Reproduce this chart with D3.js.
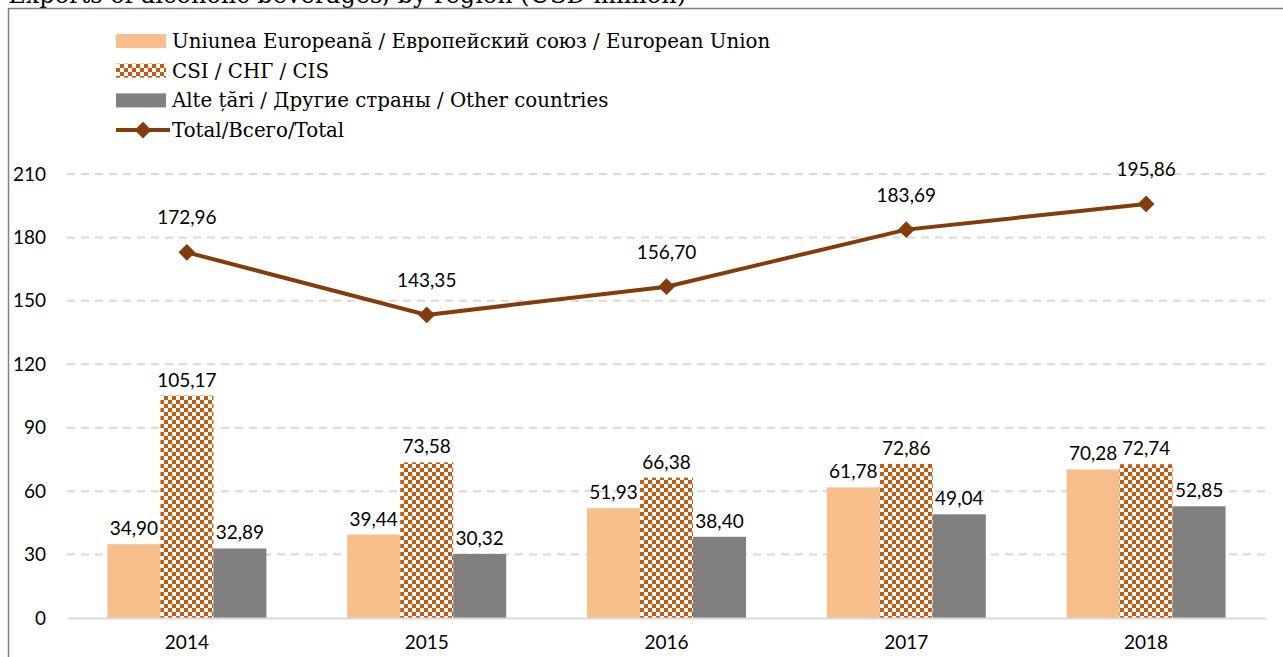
<!DOCTYPE html>
<html>
<head>
<meta charset="utf-8">
<script src="https://cdn.jsdelivr.net/npm/d3@7"></script>
<style>
  body { margin: 0; background: #fff; }
</style>
</head>
<body>
<script>
// donnees
const years = ["2014", "2015", "2016", "2017", "2018"];
const euValues = [34.90, 39.44, 51.93, 61.78, 70.28];
const cisValues = [105.17, 73.58, 66.38, 72.86, 72.74];
const otherValues = [32.89, 30.32, 38.40, 49.04, 52.85];
const totalValues = [172.96, 143.35, 156.70, 183.69, 195.86];
const yTicks = [0, 30, 60, 90, 120, 150, 180, 210];
const legendLabels = [
  "Uniunea Europeană / Европейский союз / European Union",
  "CSI / СНГ / CIS",
  "Alte țări / Другие страны / Other countries",
  "Total/Всего/Total"
];
const title = "Exports of alcoholic beverages, by region (USD million)";

const WIDTH = 1283;
const HEIGHT = 657;
const sansFont = "Lato, 'Open Sans', sans-serif";
const serifFont = "'DejaVu Serif', serif";

const svg = d3.select("body").append("svg")
  .attr("width", WIDTH).attr("height", HEIGHT);

// motif a damier pour la CSI
const defs = svg.append("defs");
const pat = defs.append("pattern")
  .attr("id", "checker")
  .attr("patternUnits", "userSpaceOnUse")
  .attr("width", 8).attr("height", 8);
pat.append("rect").attr("width", 8).attr("height", 8).attr("fill", "#fff");
pat.append("rect").attr("x", 0).attr("y", 0).attr("width", 4).attr("height", 4).attr("fill", "#C55A11");
pat.append("rect").attr("x", 4).attr("y", 4).attr("width", 4).attr("height", 4).attr("fill", "#C55A11");

// titre (coupe en haut, comme sur l'original)
svg.append("text")
  .attr("x", 686).attr("y", 3)
  .attr("text-anchor", "end")
  .attr("font-family", serifFont)
  .attr("font-size", 24)
  .attr("fill", "#000")
  .text(title);

// cadre
svg.append("rect")
  .attr("x", 8.5).attr("y", 8.5)
  .attr("width", 1300).attr("height", 700)
  .attr("fill", "none")
  .attr("stroke", "#808080")
  .attr("stroke-width", 1.5);

// echelles
const x = d3.scaleBand().domain(years).range([67, 1266]);
const y = d3.scaleLinear().domain([0, 210]).range([618, 174]);
const barW = 53;
const offsets = [-1.5 * barW, -0.5 * barW, 0.5 * barW];

// grille
svg.append("g").selectAll("line")
  .data(yTicks.filter(d => d > 0))
  .enter().append("line")
  .attr("x1", 67).attr("x2", 1266)
  .attr("y1", d => y(d)).attr("y2", d => y(d))
  .attr("stroke", "#D9D9D9")
  .attr("stroke-width", 2)
  .attr("stroke-dasharray", "8,6");

// axe y (labels seulement)
const yAxis = svg.append("g")
  .attr("transform", "translate(46,0)")
  .call(d3.axisLeft(y).tickValues(yTicks).tickSize(0).tickPadding(0));
yAxis.select(".domain").remove();
yAxis.selectAll("text")
  .attr("font-family", sansFont)
  .attr("font-size", 19)
  .attr("fill", "#000");

// barres
const series = [
  { vals: euValues, fill: "#F8BF8C" },
  { vals: cisValues, fill: "url(#checker)" },
  { vals: otherValues, fill: "#808080" }
];
series.forEach((s, k) => {
  svg.append("g").selectAll("rect")
    .data(s.vals)
    .enter().append("rect")
    .attr("x", (d, i) => x(years[i]) + x.bandwidth() / 2 + offsets[k])
    .attr("y", d => y(d))
    .attr("width", barW)
    .attr("height", d => y(0) - y(d))
    .attr("fill", s.fill);

  svg.append("g").selectAll("text")
    .data(s.vals)
    .enter().append("text")
    .attr("x", (d, i) => x(years[i]) + x.bandwidth() / 2 + offsets[k] + barW / 2)
    .attr("y", d => y(d) - 9)
    .attr("text-anchor", "middle")
    .attr("font-family", sansFont)
    .attr("font-size", 19)
    .text(d => d.toFixed(2).replace(".", ","));
});

// axe x
const xAxis = svg.append("g")
  .attr("transform", "translate(0,618)")
  .call(d3.axisBottom(x).tickSize(0).tickPadding(18));
xAxis.select(".domain").attr("stroke", "#D9D9D9").attr("stroke-width", 2);
xAxis.selectAll("text")
  .attr("font-family", sansFont)
  .attr("font-size", 19)
  .attr("fill", "#000");

// ligne du total
const line = d3.line()
  .x((d, i) => x(years[i]) + x.bandwidth() / 2)
  .y(d => y(d));
svg.append("path")
  .datum(totalValues)
  .attr("d", line)
  .attr("fill", "none")
  .attr("stroke", "#843C0C")
  .attr("stroke-width", 4);

const diamond = d3.symbol().type(d3.symbolDiamond2).size(180);
svg.append("g").selectAll("path")
  .data(totalValues)
  .enter().append("path")
  .attr("d", diamond)
  .attr("transform", (d, i) => "translate(" + (x(years[i]) + x.bandwidth() / 2) + "," + y(d) + ")")
  .attr("fill", "#843C0C");

svg.append("g").selectAll("text")
  .data(totalValues)
  .enter().append("text")
  .attr("x", (d, i) => x(years[i]) + x.bandwidth() / 2)
  .attr("y", d => y(d) - 28)
  .attr("text-anchor", "middle")
  .attr("font-family", sansFont)
  .attr("font-size", 19)
  .text(d => d.toFixed(2).replace(".", ","));

// legende
const legend = svg.append("g");
legendLabels.forEach((lab, i) => {
  const ly = 41 + i * 29.7;
  if (i < 3) {
    legend.append("rect")
      .attr("x", 116).attr("y", ly - 7)
      .attr("width", 50).attr("height", 14)
      .attr("fill", series[i].fill);
  } else {
    legend.append("line")
      .attr("x1", 116).attr("x2", 170)
      .attr("y1", ly).attr("y2", ly)
      .attr("stroke", "#843C0C").attr("stroke-width", 4);
    legend.append("path")
      .attr("d", diamond)
      .attr("transform", "translate(143," + ly + ")")
      .attr("fill", "#843C0C");
  }
  legend.append("text")
    .attr("x", 172).attr("y", ly + 7)
    .attr("font-family", serifFont)
    .attr("font-size", 19.8)
    .text(lab);
});
</script>
</body>
</html>
